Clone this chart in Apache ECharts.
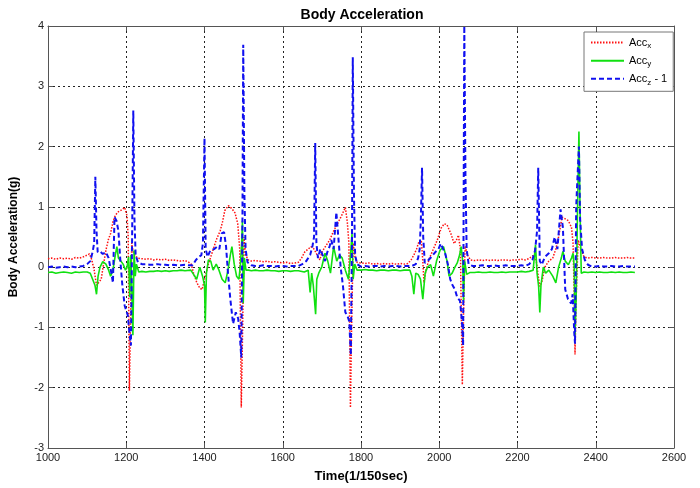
<!DOCTYPE html>
<html>
<head>
<meta charset="utf-8">
<script src="https://cdn.jsdelivr.net/npm/echarts@6/dist/echarts.min.js"></script>
<style>
html,body{margin:0;padding:0;background:#fff;}
#chart{width:700px;height:488px;}
</style>
</head>
<body>
<div id="chart"></div>
<script>
// Tick values
const xTicks = [1000,1200,1400,1600,1800,2000,2200,2400,2600];
const yTicks = [-3,-2,-1,0,1,2,3,4];

// Acc_x  [time, g]
const accX = [
[1000,0.14],[1010,0.15],[1020,0.13],[1030,0.15],[1040,0.14],[1050,0.15],[1060,0.13],[1070,0.16],[1080,0.15],[1090,0.17],
[1100,0.2],[1106,0.22],[1112,0.12],[1118,-0.05],[1124,-0.3],[1130,-0.25],[1136,-0.2],[1142,0.05],[1148,0.28],[1154,0.45],
[1160,0.56],[1166,0.75],[1172,0.86],[1180,0.92],[1188,0.95],[1196,0.99],[1202,0.85],[1205,0.5],[1208,-2.05],[1211,-0.9],
[1214,0.4],[1218,0.25],[1224,0.18],[1230,0.15],[1240,0.14],[1250,0.13],[1260,0.14],[1270,0.12],[1280,0.13],[1290,0.12],
[1300,0.13],[1310,0.11],[1320,0.12],[1330,0.11],[1340,0.1],[1350,0.11],[1360,0.08],[1366,0.05],[1372,-0.1],[1380,-0.25],
[1388,-0.35],[1394,-0.37],[1400,-0.2],[1410,0.05],[1420,0.25],[1430,0.45],[1440,0.6],[1446,0.75],[1452,0.94],[1461,1.02],
[1470,0.97],[1478,0.9],[1485,0.72],[1490,0.3],[1494,-2.33],[1497,-1.2],[1501,0.5],[1505,0.2],[1512,0.12],[1520,0.1],
[1530,0.11],[1540,0.1],[1550,0.09],[1560,0.1],[1570,0.08],[1580,0.09],[1590,0.08],[1600,0.07],[1610,0.08],[1620,0.06],
[1630,0.07],[1640,0.08],[1648,0.15],[1656,0.25],[1665,0.3],[1672,0.34],[1680,0.3],[1688,0.2],[1695,0.12],[1700,0.25],
[1710,0.35],[1720,0.45],[1730,0.6],[1740,0.72],[1750,0.85],[1760,0.99],[1765,0.75],[1769,0.4],[1773,-2.33],[1776,-1.0],
[1780,0.4],[1785,0.15],[1790,0.08],[1800,0.07],[1810,0.06],[1820,0.07],[1830,0.05],[1840,0.06],[1850,0.05],[1860,0.06],
[1870,0.05],[1880,0.06],[1890,0.05],[1900,0.06],[1910,0.05],[1920,0.06],[1928,0.12],[1935,0.2],[1942,0.3],[1948,0.42],
[1954,0.45],[1958,0.1],[1961,-0.26],[1966,-0.05],[1975,0.15],[1985,0.3],[1995,0.45],[2005,0.65],[2013,0.72],[2020,0.7],
[2030,0.55],[2038,0.39],[2044,0.45],[2049,0.53],[2054,0.3],[2059,-1.95],[2062,-0.8],[2066,0.35],[2072,0.2],[2080,0.12],
[2090,0.11],[2100,0.12],[2110,0.11],[2120,0.12],[2130,0.11],[2140,0.12],[2150,0.11],[2160,0.12],[2170,0.12],[2180,0.11],
[2190,0.12],[2200,0.12],[2210,0.13],[2220,0.12],[2228,0.14],[2235,0.17],[2242,0.2],[2248,0.1],[2253,-0.15],[2257,-0.32],
[2262,-0.25],[2270,0.0],[2280,0.1],[2290,0.15],[2298,0.3],[2305,0.5],[2314,0.83],[2322,0.8],[2330,0.77],[2338,0.66],
[2342,0.4],[2345,-0.5],[2347,-1.45],[2350,-0.5],[2355,0.45],[2362,0.3],[2370,0.17],[2380,0.15],[2390,0.16],[2400,0.15],
[2410,0.15],[2420,0.16],[2430,0.15],[2440,0.15],[2450,0.16],[2460,0.15],[2470,0.15],[2480,0.16],[2490,0.15],[2500,0.15]
];

// Acc_y  [time, g]
const accY = [
[1000,-0.09],[1010,-0.08],[1020,-0.1],[1030,-0.09],[1040,-0.08],[1050,-0.09],[1060,-0.1],[1070,-0.08],[1080,-0.09],[1090,-0.08],
[1100,-0.08],[1108,-0.1],[1114,-0.2],[1120,-0.3],[1124,-0.45],[1128,-0.15],[1133,0.0],[1140,0.09],[1148,0.05],[1155,-0.05],
[1160,-0.15],[1166,-0.05],[1172,0.2],[1176,0.34],[1180,0.15],[1186,0.1],[1192,0.05],[1198,-0.05],[1202,0.0],[1206,0.17],
[1209,-0.5],[1212,0.2],[1214,-0.3],[1217,-1.13],[1220,0.28],[1223,-0.15],[1226,0.05],[1232,-0.08],[1240,-0.07],[1250,-0.08],
[1260,-0.07],[1270,-0.07],[1280,-0.06],[1290,-0.07],[1300,-0.06],[1310,-0.07],[1320,-0.06],[1330,-0.06],[1340,-0.05],[1350,-0.06],
[1365,-0.05],[1372,-0.12],[1380,-0.2],[1388,0.0],[1395,-0.15],[1400,-0.3],[1402,-0.92],[1405,-0.1],[1410,0.12],[1416,0.1],
[1422,-0.05],[1430,0.05],[1437,-0.05],[1445,-0.2],[1453,-0.26],[1460,-0.05],[1466,0.2],[1470,0.34],[1476,0.05],[1482,-0.15],
[1488,-0.2],[1492,0.05],[1495,0.4],[1497,0.77],[1499,-0.6],[1502,0.15],[1506,-0.05],[1512,-0.05],[1520,-0.06],[1530,-0.05],
[1540,-0.06],[1550,-0.06],[1560,-0.05],[1570,-0.06],[1580,-0.06],[1590,-0.07],[1600,-0.06],[1610,-0.06],[1620,-0.07],[1630,-0.06],
[1640,-0.06],[1655,-0.08],[1665,-0.05],[1670,-0.42],[1674,-0.1],[1678,-0.3],[1684,-0.78],[1687,-0.2],[1692,-0.1],[1700,0.01],
[1708,0.23],[1715,0.1],[1722,-0.1],[1730,0.34],[1738,0.1],[1745,0.2],[1752,0.15],[1760,-0.05],[1768,-0.2],[1772,0.1],
[1777,0.55],[1780,-0.2],[1784,0.05],[1790,-0.05],[1800,-0.05],[1810,-0.04],[1820,-0.05],[1830,-0.05],[1840,-0.06],[1850,-0.05],
[1860,-0.05],[1870,-0.06],[1880,-0.05],[1890,-0.05],[1900,-0.06],[1910,-0.05],[1925,-0.05],[1930,-0.15],[1935,-0.45],[1940,-0.1],
[1946,-0.12],[1952,-0.2],[1958,-0.53],[1964,-0.1],[1970,0.0],[1978,0.04],[1985,-0.15],[1993,0.1],[2002,0.28],[2011,0.34],
[2020,0.1],[2025,-0.15],[2033,-0.1],[2040,0.0],[2046,0.07],[2052,0.2],[2056,0.34],[2060,0.1],[2062,-0.56],[2065,0.1],
[2070,-0.12],[2078,-0.09],[2090,-0.09],[2100,-0.08],[2110,-0.09],[2120,-0.09],[2130,-0.08],[2140,-0.09],[2150,-0.09],[2160,-0.08],
[2170,-0.09],[2180,-0.08],[2190,-0.08],[2200,-0.08],[2210,-0.07],[2220,-0.08],[2230,-0.07],[2240,-0.05],[2246,0.37],[2250,-0.1],
[2254,-0.32],[2257,-0.75],[2260,-0.3],[2266,0.0],[2272,-0.1],[2280,-0.05],[2290,-0.15],[2298,-0.26],[2305,0.0],[2312,0.15],
[2316,0.26],[2322,0.1],[2330,0.04],[2338,0.15],[2342,0.23],[2345,0.0],[2347,-1.12],[2350,-0.5],[2353,0.8],[2357,2.25],
[2360,0.9],[2363,-0.1],[2370,-0.08],[2380,-0.09],[2390,-0.08],[2400,-0.09],[2410,-0.08],[2420,-0.09],[2430,-0.09],[2440,-0.08],
[2450,-0.09],[2460,-0.08],[2470,-0.09],[2480,-0.09],[2490,-0.08],[2500,-0.09]
];

// Acc_z - 1  [time, g]
const accZ = [
[1000,0.0],[1010,0.01],[1020,-0.01],[1030,0.0],[1040,0.01],[1050,0.0],[1060,0.01],[1070,0.0],[1080,0.01],[1090,0.02],
[1100,0.05],[1108,0.1],[1114,0.25],[1118,0.4],[1121,1.5],[1124,0.6],[1127,0.25],[1133,0.26],[1140,0.22],[1148,0.25],
[1155,0.15],[1162,-0.1],[1166,-0.26],[1170,0.83],[1175,0.77],[1180,0.6],[1185,0.1],[1190,-0.3],[1196,-0.64],[1204,-0.8],
[1208,-1.08],[1212,-1.3],[1215,0.5],[1218,2.6],[1221,0.8],[1224,0.2],[1230,0.08],[1240,0.05],[1250,0.05],[1260,0.04],
[1270,0.04],[1280,0.05],[1290,0.04],[1300,0.04],[1310,0.03],[1320,0.04],[1330,0.03],[1340,0.03],[1350,0.04],[1360,0.03],
[1370,0.03],[1378,0.12],[1386,0.17],[1392,0.2],[1396,0.4],[1400,2.14],[1403,0.3],[1408,0.17],[1415,0.28],[1425,0.3],
[1432,0.34],[1438,0.3],[1444,0.56],[1450,0.58],[1455,0.35],[1460,-0.1],[1466,-0.53],[1473,-0.94],[1480,-0.75],[1486,-0.85],
[1490,-1.1],[1494,-1.5],[1497,0.8],[1499,3.69],[1502,1.2],[1505,0.3],[1510,0.08],[1520,0.03],[1530,0.02],[1540,0.02],
[1550,0.03],[1560,0.02],[1570,0.02],[1580,0.01],[1590,0.02],[1600,0.02],[1610,0.01],[1620,0.02],[1630,0.02],[1640,0.02],
[1650,0.05],[1660,0.1],[1670,0.2],[1676,0.35],[1680,0.5],[1683,2.06],[1686,0.4],[1690,0.15],[1696,0.3],[1702,0.2],
[1708,0.1],[1714,0.25],[1720,0.35],[1724,0.45],[1730,0.3],[1737,0.91],[1742,0.5],[1748,0.0],[1754,-0.32],[1760,-0.75],
[1765,-0.8],[1770,-0.9],[1774,-1.46],[1777,0.5],[1779,3.48],[1782,1.2],[1785,0.2],[1790,0.05],[1800,0.01],[1810,0.02],
[1820,0.01],[1830,0.02],[1840,0.02],[1850,0.01],[1860,0.02],[1870,0.01],[1880,0.02],[1890,0.02],[1900,0.01],[1910,0.02],
[1920,0.02],[1930,0.02],[1940,0.05],[1946,0.15],[1950,0.3],[1953,0.8],[1956,1.65],[1959,0.5],[1963,0.07],[1970,0.1],
[1980,0.17],[1990,0.25],[1998,0.3],[2004,0.39],[2010,0.3],[2015,0.23],[2022,0.05],[2028,-0.2],[2034,-0.3],[2040,-0.37],
[2046,-0.5],[2053,-0.56],[2058,-0.9],[2061,-1.3],[2064,4.0],[2067,1.5],[2070,0.3],[2075,0.05],[2085,0.02],[2100,0.02],
[2110,0.03],[2120,0.02],[2130,0.02],[2140,0.03],[2150,0.02],[2160,0.02],[2170,0.03],[2180,0.02],[2190,0.02],[2200,0.02],
[2210,0.03],[2220,0.02],[2230,0.05],[2238,0.12],[2245,0.28],[2250,0.6],[2253,1.65],[2257,0.1],[2262,0.04],[2270,0.17],
[2280,0.23],[2288,0.3],[2295,0.5],[2302,0.3],[2310,0.96],[2316,0.66],[2322,-0.37],[2329,-0.53],[2337,-0.6],[2341,-0.45],
[2345,-1.08],[2347,-1.27],[2350,1.0],[2353,1.45],[2357,2.0],[2360,0.8],[2365,0.3],[2372,0.12],[2380,0.04],[2390,0.01],
[2400,0.01],[2410,0.02],[2420,0.01],[2430,0.01],[2440,0.02],[2450,0.01],[2460,0.01],[2470,0.02],[2480,0.01],[2490,0.01],[2500,0.01]
];

const seriesNames = ['Acc_x','Acc_y','Acc_z - 1'];
const legendLabels = {
  'Acc_x': '{b|Acc}{s|x}',
  'Acc_y': '{b|Acc}{s|y}',
  'Acc_z - 1': '{b|Acc}{s|z}{b| - 1}'
};

const chart = echarts.init(document.getElementById('chart'), null, {renderer:'canvas'});
const fontFam = 'Arial, "Liberation Sans", Helvetica, sans-serif';
const axisColor = '#555';

const baseX = {
  type:'value', min:1000, max:2600, interval:200,
  axisLine:{show:true, onZero:false, lineStyle:{color:axisColor,width:1}},
  axisTick:{show:true, inside:true, length:5, lineStyle:{color:axisColor}},
  splitLine:{show:false}
};
const baseY = {
  type:'value', min:-3, max:4, interval:1,
  axisLine:{show:true, onZero:false, lineStyle:{color:axisColor,width:1}},
  axisTick:{show:true, inside:true, length:5, lineStyle:{color:axisColor}},
  splitLine:{show:false}
};

chart.setOption({
  backgroundColor:'#ffffff',
  animation:false,
  title:{
    text:'Body Acceleration',
    left:357, top:3, textAlign:'center',
    textStyle:{fontFamily:fontFam, fontWeight:'bold', fontSize:14, color:'#000'}
  },
  grid:{left:41, right:26, top:26, bottom:33, show:false, containLabel:false},
  legend:{
    data:seriesNames,
    orient:'vertical',
    left:584, top:32,
    backgroundColor:'#fff',
    borderColor:'#777', borderWidth:1,
    padding:[5,6,5,6],
    itemGap:5,
    itemWidth:33, itemHeight:14,
    itemStyle:{opacity:0},
    formatter: n => legendLabels[n],
    textStyle:{
      fontFamily:fontFam, color:'#000',
      rich:{
        b:{fontSize:11, fontFamily:fontFam, color:'#000'},
        s:{fontSize:8, fontFamily:fontFam, color:'#000', padding:[7,0,0,0]}
      }
    }
  },
  xAxis:[
    Object.assign({}, baseX, {
      position:'bottom',
      name:'Time(1/150sec)', nameLocation:'middle', nameGap:22,
      nameTextStyle:{fontFamily:fontFam, fontWeight:'bold', fontSize:13, color:'#000'},
      axisLabel:{fontFamily:fontFam, fontSize:11, color:'#222', margin:4, formatter: v => String(v)},
      splitLine:{show:true, lineStyle:{color:'#222', type:[2,3], width:1}}
    }),
    Object.assign({}, baseX, {position:'top', axisLabel:{show:false}})
  ],
  yAxis:[
    Object.assign({}, baseY, {
      position:'left',
      name:'Body Acceleration(g)', nameLocation:'middle', nameGap:28,
      nameTextStyle:{fontFamily:fontFam, fontWeight:'bold', fontSize:12, color:'#000'},
      axisLabel:{fontFamily:fontFam, fontSize:11, color:'#222', margin:4, formatter: v => String(v)},
      splitLine:{show:true, lineStyle:{color:'#222', type:[2,3], width:1}}
    }),
    Object.assign({}, baseY, {position:'right', axisLabel:{show:false}})
  ],
  series:[
    {name:'Acc_x', type:'line', data:accX, symbol:'none', clip:true,
     lineStyle:{color:'#ff1010', width:1.5, type:[1.5,1.5]}, itemStyle:{color:'#ff1010'}},
    {name:'Acc_y', type:'line', data:accY, symbol:'none', clip:true,
     lineStyle:{color:'#10e010', width:1.6, type:'solid'}, itemStyle:{color:'#10e010'}},
    {name:'Acc_z - 1', type:'line', data:accZ, symbol:'none', clip:true,
     lineStyle:{color:'#1010f0', width:2, type:[5,3]}, itemStyle:{color:'#1010f0'}}
  ]
});
</script>
</body>
</html>
